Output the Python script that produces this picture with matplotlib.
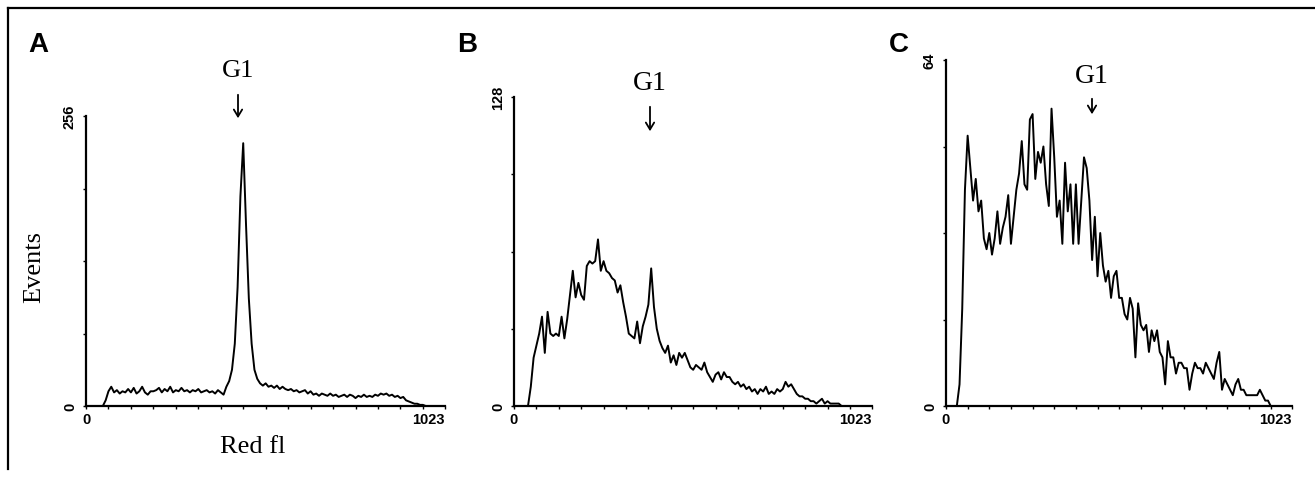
import numpy as np
import matplotlib
matplotlib.use('Agg')
import matplotlib.pyplot as plt
from matplotlib.lines import Line2D
from matplotlib.patches import FancyArrowPatch

# channel positions (every 8th channel of 1024)
channels = np.arange(0, 1024, 8)

# panel A: events per channel, full scale 256
events_a = [0, 0, 0, 0, 0, 0, 0, 5, 13, 17, 12, 14, 11, 13, 12, 15,
            12, 16, 11, 13, 17, 12, 10, 13, 13, 14, 16, 12, 15, 13, 17, 12,
            14, 13, 16, 13, 14, 12, 14, 13, 15, 12, 13, 14, 12, 13, 11, 14,
            12, 10, 17, 22, 32, 55, 105, 185, 232, 160, 95, 55, 32, 24, 20, 18,
            20, 17, 18, 16, 18, 15, 17, 15, 14, 15, 13, 14, 12, 13, 14, 11,
            13, 10, 11, 9, 11, 10, 9, 11, 9, 10, 8, 9, 10, 8, 10, 9,
            7, 9, 8, 10, 8, 9, 8, 10, 9, 11, 10, 11, 9, 10, 8, 9,
            7, 8, 5, 4, 3, 2, 2, 1, 1, 0, 0, 0, 0, 0, 0, 0]

# panel B: full scale 128
events_b = [0, 0, 0, 0, 0, 0, 8, 20, 25, 30, 37, 22, 39, 30, 29, 30,
            29, 37, 28, 36, 46, 56, 45, 51, 46, 44, 58, 60, 59, 60, 69, 56,
            60, 56, 55, 53, 52, 47, 50, 43, 37, 30, 29, 28, 35, 26, 33, 37,
            42, 57, 41, 32, 27, 24, 22, 25, 18, 21, 17, 22, 20, 22, 19, 16,
            15, 17, 16, 15, 18, 14, 12, 10, 13, 14, 11, 14, 12, 12, 10, 9,
            10, 8, 9, 7, 8, 6, 7, 5, 7, 6, 8, 5, 6, 5, 7, 6,
            7, 10, 8, 9, 7, 5, 4, 4, 3, 3, 2, 2, 1, 2, 3, 1,
            2, 1, 1, 1, 1, 0, 0, 0, 0, 0, 0, 0, 0, 0, 0, 0]

# panel C: full scale 64
events_c = [0, 0, 0, 0, 0, 4, 18, 40, 50, 44, 38, 42, 36, 38, 31, 29,
            32, 28, 31, 36, 30, 33, 35, 39, 30, 35, 40, 43, 49, 41, 40, 53,
            54, 42, 47, 45, 48, 41, 37, 55, 46, 35, 38, 30, 45, 36, 41, 30,
            41, 30, 38, 46, 44, 38, 27, 35, 24, 32, 26, 23, 25, 20, 24, 25,
            20, 20, 17, 16, 20, 18, 9, 19, 15, 14, 15, 10, 14, 12, 14, 10,
            9, 4, 12, 9, 9, 6, 8, 8, 7, 7, 3, 6, 8, 7, 7, 6,
            8, 7, 6, 5, 8, 10, 3, 5, 4, 3, 2, 4, 5, 3, 3, 2,
            2, 2, 2, 2, 3, 2, 1, 1, 0, 0, 0, 0, 0, 0, 0, 0]

panels = [
    ("A", events_a, 256, [86, 117, 445, 407]),
    ("B", events_b, 128, [514, 98, 872, 407]),
    ("C", events_c, 64, [946, 61, 1292, 407]),
]

W, H = 1315, 481
fig = plt.figure(figsize=(W / 100, H / 100), dpi=100)

sans = "Liberation Sans"
serif = "Liberation Serif"


def fx(px):
    return px / W


def fy(py):
    return 1 - py / H


for letter, vals, top, (x0, y0, x1, y1) in panels:
    ax = fig.add_axes([fx(x0), fy(y1), fx(x1) - fx(x0), fy(y0) - fy(y1)])
    ax.plot(channels, vals, color='black', lw=1.4, clip_on=False)
    ax.set_xlim(0, 1023)
    ax.set_ylim(0, top)
    for s in ['top', 'right']:
        ax.spines[s].set_visible(False)
    for s in ['left', 'bottom']:
        ax.spines[s].set_linewidth(1.6)
    ax.set_xticks([0, 1023])
    ax.set_xticklabels(["0", "1023"], fontsize=10.5, family=sans, fontweight='bold')
    ax.get_xticklabels()[1].set_ha('right')
    ax.set_yticks([0, top])
    ax.set_yticklabels(["0", str(top)], fontsize=10.5, family=sans, fontweight='bold',
                       rotation=90, va='center')
    ax.set_xticks(np.arange(64, 1023, 64), minor=True)
    ax.set_yticks(np.arange(1, 4) * top / 4, minor=True)
    ax.tick_params(which='both', length=2.5, width=1, pad=2)
    ax.tick_params(axis='y', pad=4)

    fig.text(fx(x0 - 58 if letter == "A" else x0 - 57), fy(45), letter,
             fontsize=20, fontweight='bold', family=sans, va='center')

# G1 markers with arrows
g1 = [(238, 71, 93, 122, 19), (650, 84, 105, 135, 20), (1092, 77, 97, 118, 20)]
for cx, ty, a0, a1, fs in g1:
    fig.text(fx(cx), fy(ty), "G1", fontsize=fs, family=serif, ha='center', va='center')
    fig.add_artist(FancyArrowPatch(
        (fx(cx), fy(a0)), (fx(cx), fy(a1)), transform=fig.transFigure,
        arrowstyle='->,head_length=5,head_width=3', lw=1.3, color='black',
        mutation_scale=1))

fig.text(fx(34), fy(267), "Events", fontsize=19, family=serif,
         rotation=90, ha='center', va='center')
fig.text(fx(253), fy(447), "Red fl", fontsize=19, family=serif,
         ha='center', va='center')

# outer frame (top and left edges)
fig.add_artist(Line2D([fx(8), 1], [fy(9), fy(9)], color='black', lw=1.6))
fig.add_artist(Line2D([fx(8), fx(8)], [fy(9), fy(470)], color='black', lw=1.6))

fig.savefig("out.png", dpi=100)
